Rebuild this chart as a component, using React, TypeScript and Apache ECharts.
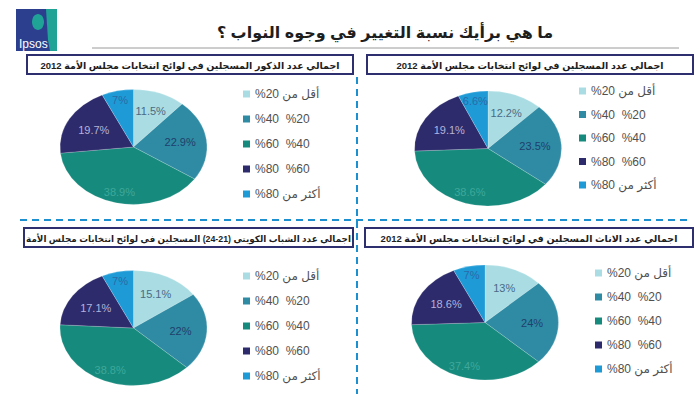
import React, { useEffect, useRef } from "react";
import * as echarts from "echarts";

// ---- data ----
const categories = ["أقل من 20%", "%40  %20", "%60  %40", "%80  %60", "أكثر من 80%"];
const malesValues = [11.5, 22.9, 38.9, 19.7, 7];
const allValues = [12.2, 23.5, 38.6, 19.1, 6.6];
const youthValues = [15.1, 22, 38.8, 17.1, 7];
const femalesValues = [13, 24, 37.4, 18.6, 7];
const panelTitles = [
  "اجمالي عدد الذكور المسجلين في لوائح انتخابات مجلس الأمة 2012",
  "اجمالي عدد المسجلين في لوائح انتخابات مجلس الأمة 2012",
  "اجمالي عدد الشباب الكويتي (21-24) المسجلين في لوائح انتخابات مجلس الأمة",
  "اجمالي عدد الاناث المسجلين في لوائح انتخابات مجلس الأمة 2012",
];
const mainTitle = "ما هي برأيك نسبة التغيير في وجوه النواب ؟";

const panelValues = [malesValues, allValues, youthValues, femalesValues];

// ---- styles / layout ----
const colors = ["#a9dde3", "#2f8ba4", "#168a7d", "#2d2b6b", "#1e9bd7"];
const labelColors = ["#4b6a86", "#1f3f6c", "#3fa89a", "#b3b3dc", "#2b6aa8"];
const labelRadius = [0.66, 0.64, 0.8, 0.62, 0.84];
const FONT = 'Arial, "DejaVu Sans", sans-serif';
const RX = 73.5;
const RY = 57.5;
const panels = [
  { cx: 133.5, cy: 147, legendLeft: 243, legendTop: 88, gap: 13, box: [27, 55, 326, 19], fs: 9.5 },
  { cx: 488, cy: 148.5, legendLeft: 579, legendTop: 85, gap: 11.5, box: [367, 55, 326, 19], fs: 9.5 },
  { cx: 133.5, cy: 328, legendLeft: 243, legendTop: 270, gap: 13, box: [24, 228, 329, 19], fs: 8.8 },
  { cx: 485, cy: 322.5, legendLeft: 595, legendTop: 267, gap: 12, box: [365, 228, 328, 19], fs: 9.5 },
];

const rtl = (s: string) => "\u202B" + s + "\u202C";

export default function App() {
  const ref = useRef<HTMLDivElement>(null);
  useEffect(() => {
    if (!ref.current) return;
    const chart = echarts.init(ref.current, null, { renderer: "svg" });

    const series = categories.map((name, ci) => ({
      type: "custom",
      name,
      coordinateSystem: "none",
      itemStyle: { color: colors[ci] },
      data: panelValues.map((vals, pi) => {
        let start = 0;
        for (let k = 0; k < ci; k++) start += vals[k];
        const total = vals.reduce((a, b) => a + b, 0);
        return [pi, vals[ci], start, total];
      }),
      renderItem: (params: any, api: any) => {
        const pi = api.value(0);
        const v = api.value(1);
        const s = api.value(2);
        const total = api.value(3);
        const p = panels[pi];
        const a0 = -Math.PI / 2 + (s / total) * Math.PI * 2;
        const a1 = -Math.PI / 2 + ((s + v) / total) * Math.PI * 2;
        const mid = (a0 + a1) / 2;
        const f = labelRadius[ci];
        return {
          type: "group",
          children: [
            {
              type: "sector",
              x: p.cx,
              y: p.cy,
              scaleY: RY / RX,
              shape: { cx: 0, cy: 0, r0: 0, r: RX, startAngle: a0, endAngle: a1, clockwise: true },
              style: { fill: colors[ci], stroke: "rgba(255,255,255,0.35)", lineWidth: 0.6 },
            },
            {
              type: "text",
              x: p.cx + f * RX * Math.cos(mid),
              y: p.cy + f * RY * Math.sin(mid),
              style: {
                text: v + "%",
                fill: labelColors[ci],
                fontSize: 11,
                fontFamily: FONT,
                align: "center",
                verticalAlign: "middle",
              },
            },
          ],
        };
      },
    }));

    const legends = panels.map((p) => ({
      data: categories,
      orient: "vertical",
      left: p.legendLeft,
      top: p.legendTop,
      itemGap: p.gap,
      itemWidth: 7,
      itemHeight: 7,
      icon: "rect",
      padding: 0,
      selectedMode: false,
      formatter: (name: string) => (/[\u0600-\u06FF]/.test(name) ? rtl(name) : name),
      textStyle: { fontSize: 12, color: "#505050", fontFamily: FONT },
    }));

    const graphics: any[] = [
      // logo
      { type: "rect", shape: { x: 16, y: 9, width: 41, height: 42 }, style: { fill: "#2b3f8e" } },
      { type: "polygon", shape: { points: [[46, 9], [57, 9], [57, 51], [50, 51], [48, 40]] }, style: { fill: "#1fa397" } },
      { type: "ellipse", shape: { cx: 38, cy: 22, rx: 6, ry: 8 }, style: { fill: "#1fa397" } },
      { type: "text", x: 19, y: 38, style: { text: "Ipsos", fill: "#ffffff", fontSize: 12, fontFamily: FONT } },
      // title
      {
        type: "text",
        x: 385,
        y: 32,
        style: { text: rtl(mainTitle), fill: "#1e1e1e", fontSize: 16, fontWeight: "bold", fontFamily: FONT, align: "center", verticalAlign: "middle" },
      },
      { type: "line", shape: { x1: 92, y1: 48, x2: 679, y2: 48 }, style: { stroke: "#9a9a9a", lineWidth: 1 } },
      // dashed separators
      { type: "line", shape: { x1: 357, y1: 77, x2: 357, y2: 394 }, style: { stroke: "#1b8fd0", lineWidth: 2, lineDash: [7, 5] } },
      { type: "line", shape: { x1: 20, y1: 220, x2: 692, y2: 220 }, style: { stroke: "#1b8fd0", lineWidth: 2, lineDash: [7, 5] } },
    ];
    panels.forEach((p, i) => {
      const [bx, by, bw, bh] = p.box;
      graphics.push({
        type: "rect",
        shape: { x: bx, y: by, width: bw, height: bh },
        style: { fill: "#ffffff", stroke: "#2e2f6e", lineWidth: 2 },
      });
      graphics.push({
        type: "text",
        x: bx + bw / 2,
        y: by + bh / 2 + 1,
        style: {
          text: rtl(panelTitles[i]),
          fill: "#1e1e1e",
          fontSize: p.fs,
          fontWeight: "bold",
          fontFamily: FONT,
          align: "center",
          verticalAlign: "middle",
        },
      });
    });

    chart.setOption({
      animation: false,
      backgroundColor: "#ffffff",
      legend: legends,
      graphic: graphics,
      series,
    } as any);
    return () => chart.dispose();
  }, []);
  return (
    <div
      ref={ref}
      style={{ position: "fixed", left: 0, top: 0, width: 700, height: 394 }}
    />
  );
}
